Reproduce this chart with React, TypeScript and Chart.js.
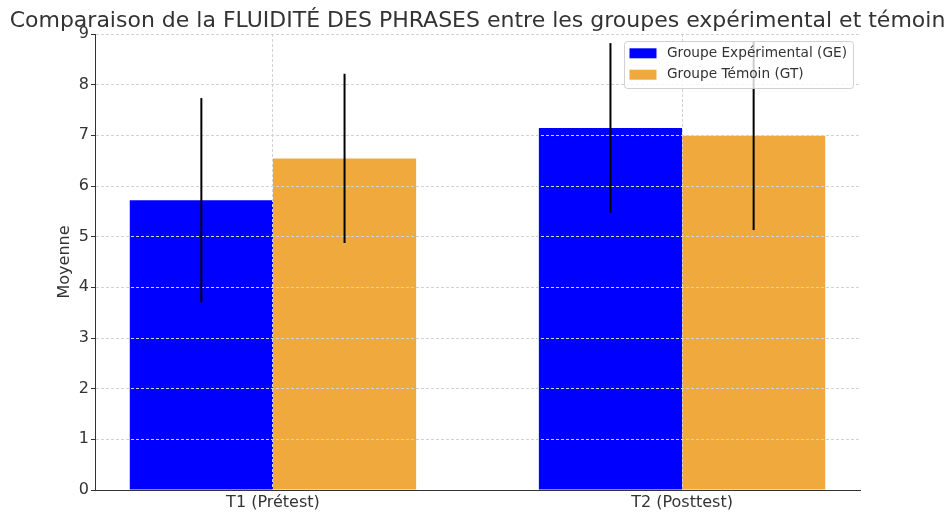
import React, { useEffect, useRef } from 'react';
import { Chart, registerables } from 'chart.js';

Chart.register(...registerables);

const chartTitle = 'Comparaison de la FLUIDITÉ DES PHRASES entre les groupes expérimental et témoin';
const yAxisTitle = 'Moyenne';
const categories = ['T1 (Prétest)', 'T2 (Posttest)'];
const seriesLabels = ['Groupe Expérimental (GE)', 'Groupe Témoin (GT)'];
const geMeans = [5.72, 7.145];
const geSd = [2.015, 1.675];
const gtMeans = [6.545, 6.99];
const gtSd = [1.67, 1.86];
const seriesColors = ['#0000ff', '#f0a93c'];
const yMin = 0;
const yMax = 9;
const yStep = 1;

const allMeans = [geMeans, gtMeans];
const allSd = [geSd, gtSd];
const FONT = '"DejaVu Sans", sans-serif';
const TEXT = '#333333';

const errorBarPlugin = {
  id: 'errorBars',
  afterDraw(chart: any) {
    const { ctx } = chart;
    const y = chart.scales.y;
    ctx.save();
    ctx.strokeStyle = '#000000';
    ctx.lineWidth = 2;
    chart.data.datasets.forEach((_ds: any, di: number) => {
      const meta = chart.getDatasetMeta(di);
      meta.data.forEach((el: any, i: number) => {
        const m = allMeans[di][i];
        const s = allSd[di][i];
        ctx.beginPath();
        ctx.moveTo(el.x, y.getPixelForValue(m - s));
        ctx.lineTo(el.x, y.getPixelForValue(m + s));
        ctx.stroke();
      });
    });
    ctx.restore();
  },
};

const legendPlugin = {
  id: 'customLegend',
  afterDraw(chart: any) {
    const { ctx, chartArea } = chart;
    ctx.save();
    ctx.font = `13.7px ${FONT}`;
    let tw = 0;
    seriesLabels.forEach((l) => { tw = Math.max(tw, ctx.measureText(l).width); });
    const w = 43 + tw + 6;
    const h = 47;
    const x = chartArea.right - 7 - w;
    const yTop = chartArea.top + 7;
    ctx.beginPath();
    ctx.roundRect(x + 0.5, yTop + 0.5, w, h, 3);
    ctx.fillStyle = 'rgba(255,255,255,0.8)';
    ctx.fill();
    ctx.strokeStyle = 'rgba(204,204,204,0.9)';
    ctx.lineWidth = 1;
    ctx.stroke();
    seriesLabels.forEach((l, i) => {
      const cy = yTop + 12.3 + i * 21.4;
      ctx.fillStyle = seriesColors[i];
      ctx.fillRect(x + 5.5, cy - 5, 27, 10);
      ctx.fillStyle = TEXT;
      ctx.textBaseline = 'middle';
      ctx.textAlign = 'left';
      ctx.fillText(l, x + 43, cy);
    });
    ctx.restore();
  },
};

const titlePlugin = {
  id: 'customTitle',
  afterDraw(chart: any) {
    const { ctx, chartArea } = chart;
    ctx.save();
    ctx.font = `22px ${FONT}`;
    ctx.fillStyle = TEXT;
    ctx.textAlign = 'center';
    ctx.textBaseline = 'alphabetic';
    ctx.fillText(chartTitle, (chartArea.left + chartArea.right) / 2, 27);
    ctx.restore();
  },
};

export default function App() {
  const ref = useRef<HTMLCanvasElement | null>(null);
  useEffect(() => {
    document.body.style.margin = '0';
    if (!ref.current) return;
    const chart = new Chart(ref.current, {
      type: 'bar',
      data: {
        datasets: [0, 1].map((di) => ({
          label: seriesLabels[di],
          data: allMeans[di].map((v, i) => ({ x: i, y: v })),
          backgroundColor: seriesColors[di],
          borderWidth: 0,
          categoryPercentage: 0.7,
          barPercentage: 1.0,
        })),
      },
      options: {
        animation: false,
        responsive: true,
        maintainAspectRatio: false,
        layout: { padding: { top: 34, right: 88, left: 0, bottom: 0 } },
        plugins: { legend: { display: false }, title: { display: false }, tooltip: { enabled: false } },
        scales: {
          x: {
            type: 'linear',
            min: -0.435,
            max: 1.435,
            offset: false,
            afterBuildTicks: (scale: any) => {
              scale.ticks = categories.map((_c, i) => ({ value: i }));
            },
            afterFit: (scale: any) => { scale.height = 25; },
            ticks: {
              callback: (v: any) => categories[v] ?? '',
              color: TEXT,
              font: { family: FONT, size: 16 },
              padding: 3,
              maxRotation: 0,
              autoSkip: false,
            },
            grid: {
              offset: false,
              color: '#d2d2d2',
              lineWidth: 1,
              drawTicks: false,
              z: 1,
            },
            border: { display: true, color: '#333333', width: 1, dash: [3, 2], z: 2 },
          },
          y: {
            min: yMin,
            max: yMax,
            afterFit: (scale: any) => { scale.width = 95; },
            ticks: {
              stepSize: yStep,
              color: TEXT,
              font: { family: FONT, size: 16 },
              padding: 2,
            },
            grid: {
              color: '#d2d2d2',
              lineWidth: 1,
              drawTicks: true,
              tickLength: 4,
              tickColor: '#333333',
              tickWidth: 1,
              tickBorderDash: [],
              z: 1,
            },
            border: { display: true, color: '#333333', width: 1, dash: [3, 2], z: 2 },
            title: {
              display: true,
              text: yAxisTitle,
              color: TEXT,
              font: { family: FONT, size: 16 },
              padding: { top: 55, bottom: 0 },
            },
          },
        },
      },
      plugins: [errorBarPlugin, legendPlugin, titlePlugin],
    } as any);
    return () => chart.destroy();
  }, []);
  return (
    <div style={{ width: '948px', height: '515px', position: 'relative' }}>
      <canvas ref={ref} />
    </div>
  );
}
